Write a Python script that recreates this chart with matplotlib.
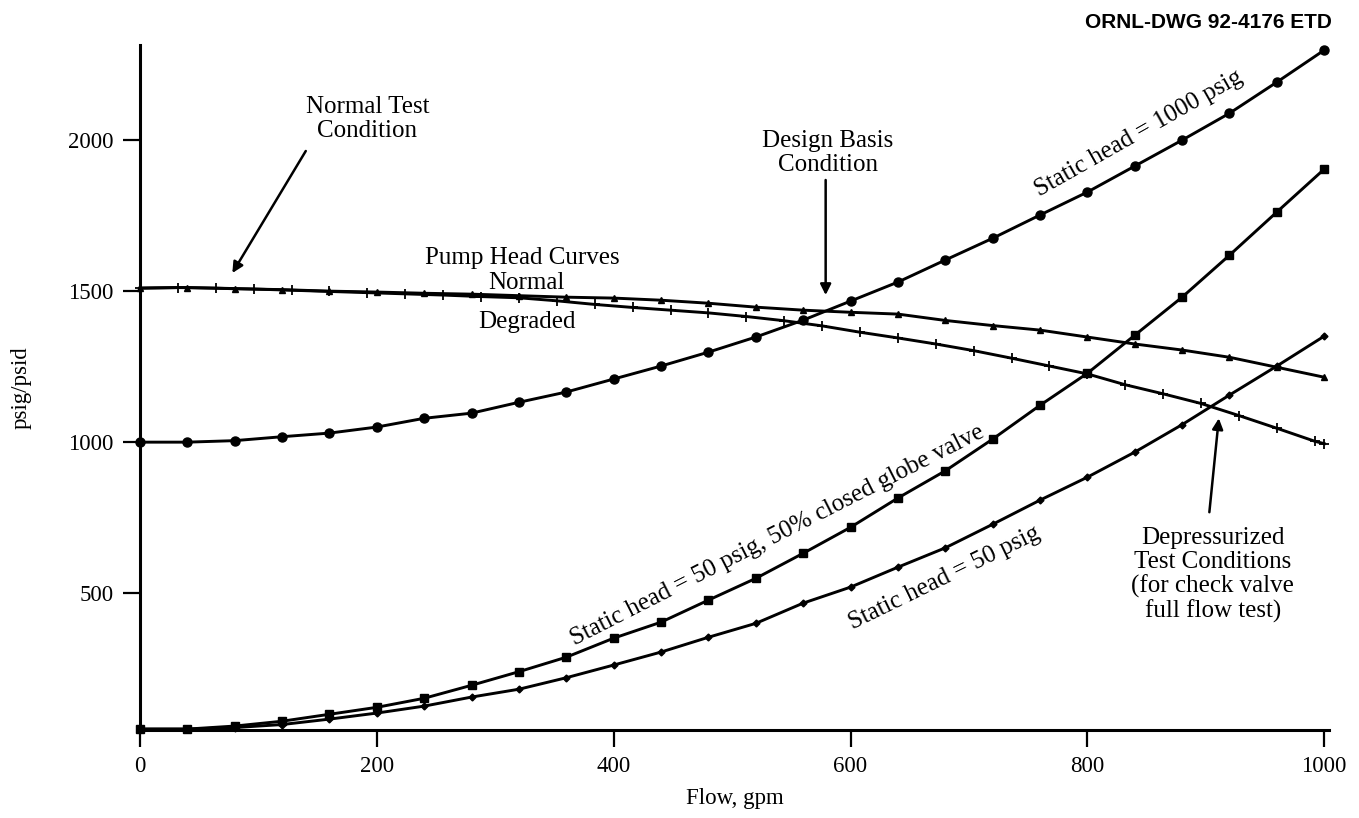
import matplotlib.pyplot as plt

# flow points (gpm)
flow = [0, 40, 80, 120, 160, 200, 240, 280, 320, 360, 400, 440, 480, 520,
        560, 600, 640, 680, 720, 760, 800, 840, 880, 920, 960, 1000]
flow_deg = [0, 32, 64, 96, 128, 160, 192, 224, 256, 288, 320, 352, 384, 416,
            448, 480, 512, 544, 576, 608, 640, 672, 704, 736, 768, 800, 832,
            864, 896, 928, 960, 992, 1000]

# system curves (psig)
static_1000 = [1000, 1000, 1005, 1018, 1030, 1050, 1079, 1096, 1132, 1166, 1209,
               1252, 1298, 1348, 1404, 1467, 1530, 1603, 1675, 1752, 1828, 1914,
               2000, 2089, 2192, 2298]
static_50_globe = [50, 50, 60, 76, 99, 122, 152, 195, 240, 288, 351, 404, 477,
                   549, 632, 718, 815, 905, 1010, 1122, 1228, 1354, 1480, 1619,
                   1762, 1904]
static_50 = [50, 50, 55, 65, 83, 103, 126, 156, 182, 220, 262, 305, 354, 400,
             467, 520, 586, 650, 728, 808, 884, 967, 1058, 1156, 1252, 1351]

# pump head curves (psid)
pump_normal = [1510, 1512, 1508, 1505, 1500, 1497, 1493, 1490, 1485, 1480, 1477,
               1470, 1460, 1447, 1437, 1430, 1424, 1403, 1386, 1371, 1348, 1325,
               1305, 1281, 1248, 1215]
pump_degraded = [1510, 1512, 1510, 1507, 1503, 1499, 1495, 1491, 1487, 1482, 1478,
                 1468, 1456, 1446, 1437, 1428, 1416, 1402, 1385, 1364, 1345, 1325,
                 1303, 1278, 1252, 1226, 1190, 1160, 1128, 1088, 1046, 1003, 995]

plt.rcParams['font.family'] = ['Liberation Serif', 'DejaVu Serif']
fs = 16.5   # ticks / axis labels
fa = 18     # annotations

fig = plt.figure(figsize=(13.59, 8.18), dpi=100)
ax = fig.add_axes([0.103, 0.1076, 0.8749, 0.8374])

lw = 2.1
ax.plot(flow, static_1000, color='black', lw=lw, marker='o', ms=6.5, clip_on=False)
ax.plot(flow, static_50_globe, color='black', lw=lw, marker='s', ms=6, clip_on=False)
ax.plot(flow, static_50, color='black', lw=lw, marker='D', ms=3.5, clip_on=False)
ax.plot(flow, pump_normal, color='black', lw=lw, marker='^', ms=5, clip_on=False)
ax.plot(flow_deg, pump_degraded, color='black', lw=lw, marker='+', ms=7, mew=1.3,
        clip_on=False)

ax.set_xlim(0, 1004)
ax.set_ylim(47, 2315)
ax.set_xticks([0, 200, 400, 600, 800, 1000])
ax.set_yticks([500, 1000, 1500, 2000])
ax.tick_params(direction='out', length=12, width=1.6, labelsize=fs, pad=7)
for s in ['top', 'right']:
    ax.spines[s].set_visible(False)
for s in ['left', 'bottom']:
    ax.spines[s].set_linewidth(2.2)

ax.set_xlabel('Flow, gpm', fontsize=fs, labelpad=8)
ax.set_ylabel('psig/psid', fontsize=fs, labelpad=26)

arrow = dict(arrowstyle='-|>', lw=1.8, color='black', mutation_scale=16,
             shrinkA=0, shrinkB=0)

# annotations
ax.text(192, 2070, 'Normal Test\nCondition', ha='center', va='center',
        fontsize=fa, linespacing=1.1)
ax.annotate('', xy=(78, 1560), xytext=(140, 1964), arrowprops=arrow)

ax.text(581, 1957, 'Design Basis\nCondition', ha='center', va='center',
        fontsize=fa, linespacing=1.1)
ax.annotate('', xy=(579, 1487), xytext=(579, 1868), arrowprops=arrow)

ax.text(323, 1609, 'Pump Head Curves', ha='center', va='center', fontsize=fa)
ax.text(326, 1526, 'Normal', ha='center', va='center', fontsize=fa)
ax.text(327, 1397, 'Degraded', ha='center', va='center', fontsize=fa)

ax.text(843, 2023, 'Static head = 1000 psig', ha='center', va='center',
        fontsize=fa, rotation=29.5, rotation_mode='anchor')
ax.text(538, 692, 'Static head = 50 psig, 50% closed globe valve', ha='center',
        va='center', fontsize=fa, rotation=27, rotation_mode='anchor')
ax.text(679, 550, 'Static head = 50 psig', ha='center', va='center',
        fontsize=fa, rotation=26, rotation_mode='anchor')

ax.text(906, 560, 'Depressurized\nTest Conditions\n(for check valve\nfull flow test)',
        ha='center', va='center', fontsize=fa, linespacing=1.1)
ax.annotate('', xy=(911, 1079), xytext=(903, 768), arrowprops=arrow)

fig.text(1332 / 1359, 1 - 22 / 818, 'ORNL-DWG 92-4176 ETD', ha='right', va='center',
         fontsize=15, fontweight='bold', family=['Liberation Sans', 'DejaVu Sans'])

fig.savefig('out.png', dpi=100)
